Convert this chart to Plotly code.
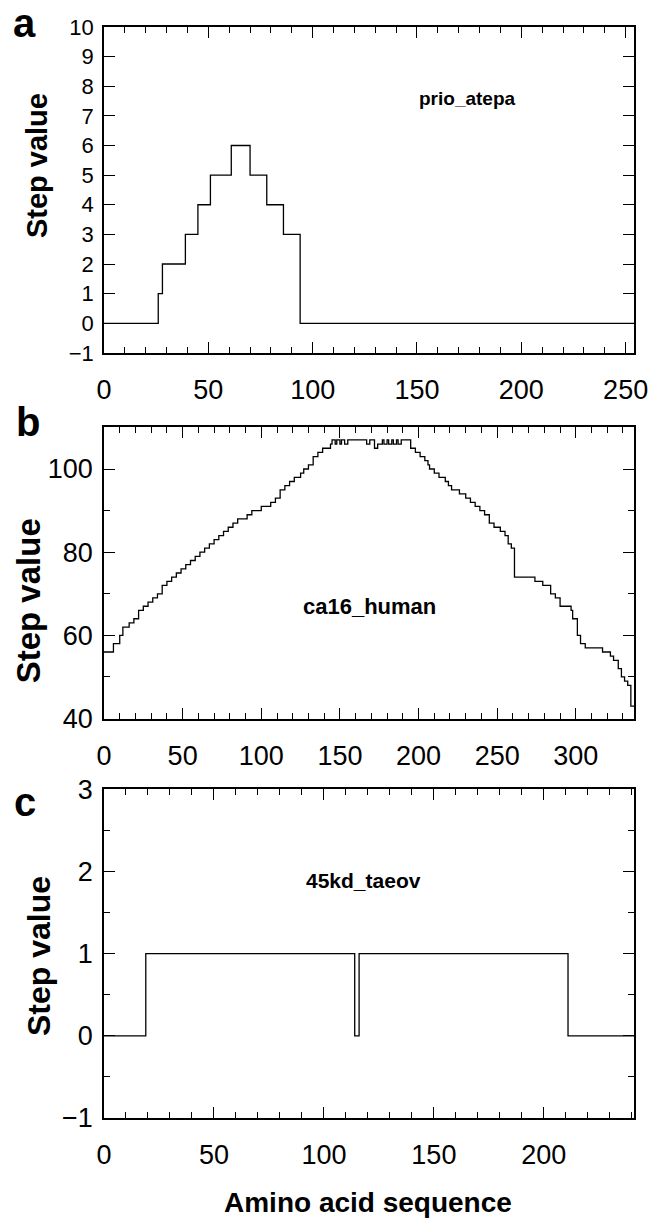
import plotly.graph_objects as go

# panel a: prio_atepa
a_x = [0, 26, 28, 39, 45, 51, 61, 70, 78, 86, 94, 254]
a_y = [0, 1, 2, 3, 4, 5, 6, 5, 4, 3, 0, 0]

# panel b: ca16_human
b_x = [0, 6, 10, 12, 16, 19, 22, 25, 28, 31, 34, 37, 40, 43, 46, 49, 52, 55, 58, 61,
       64, 67, 70, 73, 76, 79, 82, 85, 91, 94, 100, 106, 109, 112, 115, 118, 121, 125,
       127, 130, 133, 136, 139, 144, 145, 147, 148, 150, 151, 153, 155, 167, 169, 172,
       174, 177, 178, 180, 181, 183, 184, 186, 187, 189, 195, 198, 201, 204, 206, 207,
       210, 213, 217, 219, 221, 226, 230, 233, 236, 239, 242, 245, 248, 252, 255, 257,
       259, 261, 274, 279, 284, 287, 290, 297, 298, 301, 303, 306, 317, 322, 324, 327,
       329, 331, 333, 335, 337]
b_y = [56, 58, 60, 62, 63, 64, 66, 67, 68, 69, 70, 72, 73, 74, 75, 76, 77, 78, 79, 80,
       81, 82, 83, 84, 85, 86, 87, 88, 89, 90, 91, 92, 93, 95, 96, 97, 98, 99,
       100, 101, 103, 104, 105, 106, 107, 106, 107, 106, 107, 106, 107, 106, 107, 105,
       106, 107, 106, 107, 106, 107, 106, 107, 106, 107, 105, 104, 103, 102, 101, 100,
       99, 98, 97, 96, 95, 94, 93, 92, 91, 90, 89, 87, 86, 85, 84, 82,
       81, 74, 73, 72, 70, 69, 67, 66, 64, 60, 58, 57, 56, 55, 54, 52,
       50, 49, 48, 43, 43]

# panel c: 45kd_taeov
c_x = [0, 19, 114, 116, 211, 241]
c_y = [0, 1, 0, 1, 0, 0]

TICKFONT = "Liberation Sans Narrow, Liberation Sans, Arial, sans-serif"
BOLD = "Liberation Sans, Arial, sans-serif"

fig = go.Figure()
for i, (xs, ys) in enumerate([(a_x, a_y), (b_x, b_y), (c_x, c_y)], start=1):
    fig.add_trace(go.Scatter(x=xs, y=ys, mode="lines", line_shape="hv",
                             line=dict(color="black", width=1.3),
                             xaxis=f"x{i if i > 1 else ''}", yaxis=f"y{i if i > 1 else ''}",
                             showlegend=False))

def xax(rng, anchor, size):
    return dict(range=rng, anchor=anchor, dtick=50, ticks="inside", ticklen=11,
                tickwidth=1.2, tickcolor="black", mirror="ticks", showline=True,
                linecolor="black", linewidth=1.5, showgrid=False, zeroline=False,
                tickfont=dict(family=TICKFONT, size=size, color="black"),
                ticklabelstandoff=12,
                minor=dict(ticks="inside", ticklen=6, dtick=10, tickcolor="black",
                           tickwidth=1, showgrid=False))

def yax(rng, anchor, dom, dtick, size, minor=None):
    d = dict(range=rng, anchor=anchor, domain=dom, dtick=dtick, ticks="inside", ticklen=11,
             tickwidth=1.2, tickcolor="black", mirror="ticks", showline=True,
             linecolor="black", linewidth=1.5, showgrid=False, zeroline=False,
             tickfont=dict(family=TICKFONT, size=size, color="black"),
             ticklabelstandoff=4)
    if minor:
        d["minor"] = dict(ticks="inside", ticklen=6, dtick=minor, tickcolor="black",
                          tickwidth=1, showgrid=False)
    return d

H, T, B = 1221, 20, 103
ph = H - T - B
def py(p):
    return (H - B - p) / ph

fig.update_layout(
    width=666, height=1221, autosize=False,
    margin=dict(l=104, r=32, t=20, b=103),
    paper_bgcolor="white", plot_bgcolor="white",
    xaxis=xax([0, 254], "y", 27),
    yaxis=yax([-1, 10], "x", [py(348), 1.0], 1, 22),
    xaxis2=xax([0, 337], "y2", 27),
    yaxis2=yax([40, 110], "x2", [py(716), py(423)], 20, 27, minor=10),
    xaxis3=xax([0, 241], "y3", 27),
    yaxis3=yax([-1, 3], "x3", [0, py(787)], 1, 27, minor=0.5),
)

def px(p):
    return (p - 104) / 530

def label(text, x, y, size, angle=0, ref=("paper", "paper")):
    fig.add_annotation(text=f"<b>{text}</b>", x=x, y=y, xref=ref[0], yref=ref[1],
                       xanchor="center", yanchor="middle", textangle=angle,
                       showarrow=False, font=dict(family=BOLD, size=size, color="black"))

# panel letters (glyph sits low in its box, so centre a bit lower)
label("a", px(24), py(16), 40)
label("b", px(28), py(418), 40)
label("c", px(25), py(800), 40)

label("Step value", px(37), py(160), 29, -90)
label("Step value", px(28), py(598), 33, -90)
label("Step value", px(39), py(955), 32, -90)

label("Amino acid sequence", px(368), py(1203), 28)

label("prio_atepa", 174, 7.6, 19, ref=("x", "y"))
label("ca16_human", 169, 67, 22, ref=("x2", "y2"))
label("45kd_taeov", 118, 1.89, 21, ref=("x3", "y3"))

fig.write_html("out.html", config={"displayModeBar": False},
               post_script="document.body.style.margin='0';")
